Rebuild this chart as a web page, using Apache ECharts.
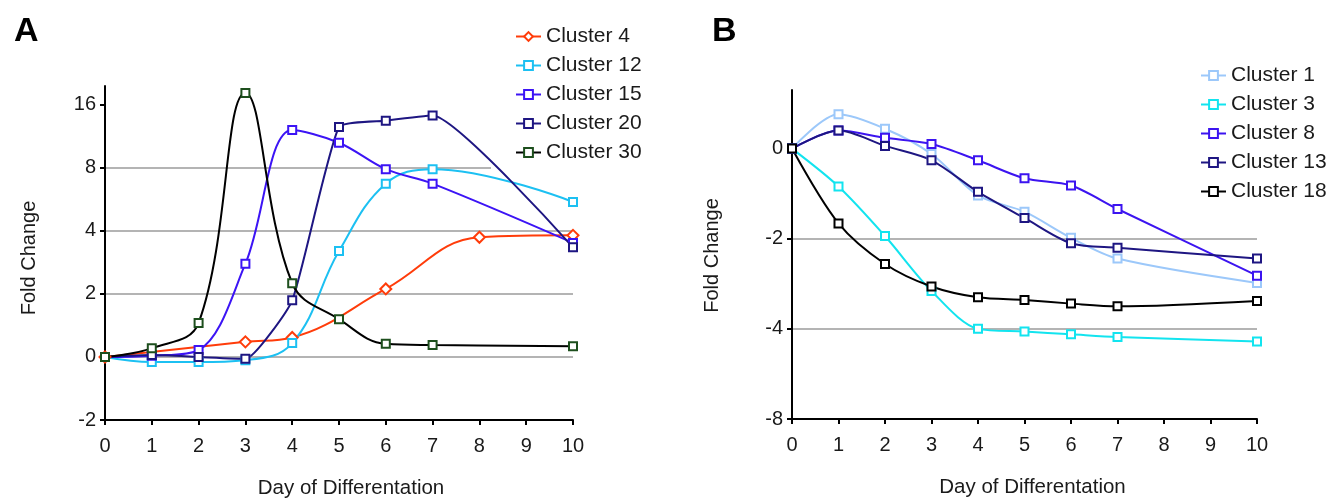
<!DOCTYPE html>
<html>
<head>
<meta charset="utf-8">
<script src="https://cdn.jsdelivr.net/npm/echarts@6/dist/echarts.min.js"></script>
<style>
  html, body { margin: 0; padding: 0; background: #fff; }
  #chart { width: 1336px; height: 499px; }
</style>
</head>
<body>
<div id="chart"></div>
<script>
// days on the x axis (both panels)
var days = [0, 1, 2, 3, 4, 5, 6, 7, 8, 9, 10];

// y positions are in axis steps; tick labels are the fold-change labels
var tickPosA = [-1, 0, 1, 2, 3, 4];
var tickLabelsA = ['-2', '0', '2', '4', '8', '16'];
var tickPosB = [-3, -2, -1, 0];
var tickLabelsB = ['-8', '-4', '-2', '0'];

// panel A (null = no point on that day)
var namesA = ['Cluster 4', 'Cluster 12', 'Cluster 15', 'Cluster 20', 'Cluster 30'];
var cluster4  = [0, null, null, 0.24, 0.31, null, 1.08, null, 1.90, null, 1.93];
var cluster12 = [0, -0.08, -0.08, -0.05, 0.22, 1.68, 2.75, 2.98, null, null, 2.46];
var cluster15 = [0, 0.02, 0.11, 1.48, 3.60, 3.40, 2.98, 2.75, null, null, 1.81];
var cluster20 = [0, 0.03, 0.0, -0.03, 0.90, 3.65, 3.75, 3.83, null, null, 1.74];
var cluster30 = [0, 0.14, 0.54, 4.19, 1.17, 0.60, 0.21, 0.19, null, null, 0.17];

// panel B
var namesB = ['Cluster 1', 'Cluster 3', 'Cluster 8', 'Cluster 13', 'Cluster 18'];
var cluster1  = [0, 0.38, 0.22, -0.06, -0.52, -0.70, -0.99, -1.22, null, null, -1.49];
var cluster3  = [0, -0.42, -0.97, -1.58, -2.0, -2.03, -2.06, -2.09, null, null, -2.14];
var cluster8  = [0, 0.20, 0.12, 0.05, -0.13, -0.33, -0.41, -0.67, null, null, -1.41];
var cluster13 = [0, 0.20, 0.03, -0.13, -0.48, -0.77, -1.05, -1.10, null, null, -1.22];
var cluster18 = [0, -0.83, -1.28, -1.53, -1.65, -1.68, -1.72, -1.75, null, null, -1.69];

var font = 'Liberation Sans, Arial, sans-serif';
var ink = '#1a1a1a';

function pairs(vals) {
  var res = [];
  for (var i = 0; i < days.length; i++) {
    if (vals[i] != null) res.push([days[i], vals[i]]);
  }
  return res;
}

function makeSeries(name, vals, idx, lineColor, markColor, symbol, smooth) {
  return {
    name: name,
    type: 'line',
    xAxisIndex: idx,
    yAxisIndex: idx,
    z: 5,
    data: pairs(vals),
    smooth: smooth,
    symbol: symbol,
    symbolSize: symbol === 'diamond' ? 11 : 8,
    showAllSymbol: true,
    lineStyle: { color: lineColor, width: 2 },
    itemStyle: { color: '#fff', borderColor: markColor, borderWidth: 2 },
    emphasis: { disabled: true }
  };
}

function xAxis(idx, shift) {
  return {
    type: 'value', gridIndex: idx, min: 0, max: 10, interval: 1,
    name: 'Day of Differentation', nameLocation: 'middle', nameGap: 58,
    nameTextStyle: { fontSize: 20.5, color: ink, fontFamily: font, padding: [0, 0, 0, shift] },
    axisLine: { onZero: false, lineStyle: { color: '#000', width: 2 } },
    axisTick: { length: 5, lineStyle: { color: '#000', width: 2 } },
    axisLabel: { fontSize: 20, color: ink, fontFamily: font, margin: 16 },
    splitLine: { show: false }
  };
}

function yAxis(idx, min, max, pos, labels, gap, shift) {
  return {
    type: 'value', gridIndex: idx, min: min, max: max, interval: 1,
    name: 'Fold Change', nameLocation: 'middle', nameGap: gap,
    nameTextStyle: { fontSize: 20, color: ink, fontFamily: font, padding: [0, shift, 0, 0] },
    axisLine: { show: true, onZero: false, lineStyle: { color: '#000', width: 2 } },
    axisTick: { show: true, length: 5, customValues: pos, lineStyle: { color: '#000', width: 2 } },
    axisLabel: {
      fontSize: 20, color: ink, fontFamily: font, margin: 9,
      customValues: pos,
      formatter: function (v) { return labels[pos.indexOf(Math.round(v))]; }
    },
    splitLine: { show: true, showMinLine: false, showMaxLine: false,
      lineStyle: { color: '#b4b4b4', width: 2 } }
  };
}

function legend(names, left, top, pad) {
  return {
    data: names, orient: 'vertical', left: left, top: top,
    padding: pad, itemGap: 8, itemWidth: 25, itemHeight: 11,
    backgroundColor: '#fff',
    textStyle: { fontSize: 21, color: ink, fontFamily: font, lineHeight: 21 }
  };
}

var chart = echarts.init(document.getElementById('chart'), null, { renderer: 'canvas' });
chart.setOption({
  animation: false,
  backgroundColor: '#fff',
  title: [
    { text: 'A', left: 9, top: 10, textStyle: { fontSize: 34, fontWeight: 'bold', color: '#000', fontFamily: font } },
    { text: 'B', left: 707, top: 10, textStyle: { fontSize: 34, fontWeight: 'bold', color: '#000', fontFamily: font } }
  ],
  grid: [
    { left: 105, top: 86, width: 468, height: 334, outerBoundsMode: 'none' },
    { left: 792, top: 90, width: 465, height: 329, outerBoundsMode: 'none' }
  ],
  xAxis: [xAxis(0, 24), xAxis(1, 16)],
  yAxis: [
    yAxis(0, -1, 4.3, tickPosA, tickLabelsA, 66, 10),
    yAxis(1, -3, 0.65, tickPosB, tickLabelsB, 70, 2)
  ],
  legend: [
    legend(namesA, 491, 21, [5, 10, 14, 24]),
    legend(namesB, 1183, 60, [5, 8, 5, 17])
  ],
  series: [
    makeSeries('Cluster 4', cluster4, 0, '#ff3c0a', '#ff3c0a', 'diamond', 0.4),
    makeSeries('Cluster 12', cluster12, 0, '#1cc0f2', '#1cc0f2', 'rect', 0.4),
    makeSeries('Cluster 15', cluster15, 0, '#3c14f5', '#3c14f5', 'rect', 0.35),
    makeSeries('Cluster 20', cluster20, 0, '#1e1682', '#1e1682', 'rect', 0.15),
    makeSeries('Cluster 30', cluster30, 0, '#000000', '#1d4f1d', 'rect', 0.4),
    makeSeries('Cluster 1', cluster1, 1, '#9cc8fa', '#9cc8fa', 'rect', 0.3),
    makeSeries('Cluster 3', cluster3, 1, '#12e4ef', '#12e4ef', 'rect', 0.3),
    makeSeries('Cluster 8', cluster8, 1, '#3c14f0', '#3c14f0', 'rect', 0.3),
    makeSeries('Cluster 13', cluster13, 1, '#1e1682', '#1e1682', 'rect', 0.3),
    makeSeries('Cluster 18', cluster18, 1, '#000000', '#000000', 'rect', 0.3)
  ]
});
</script>
</body>
</html>
